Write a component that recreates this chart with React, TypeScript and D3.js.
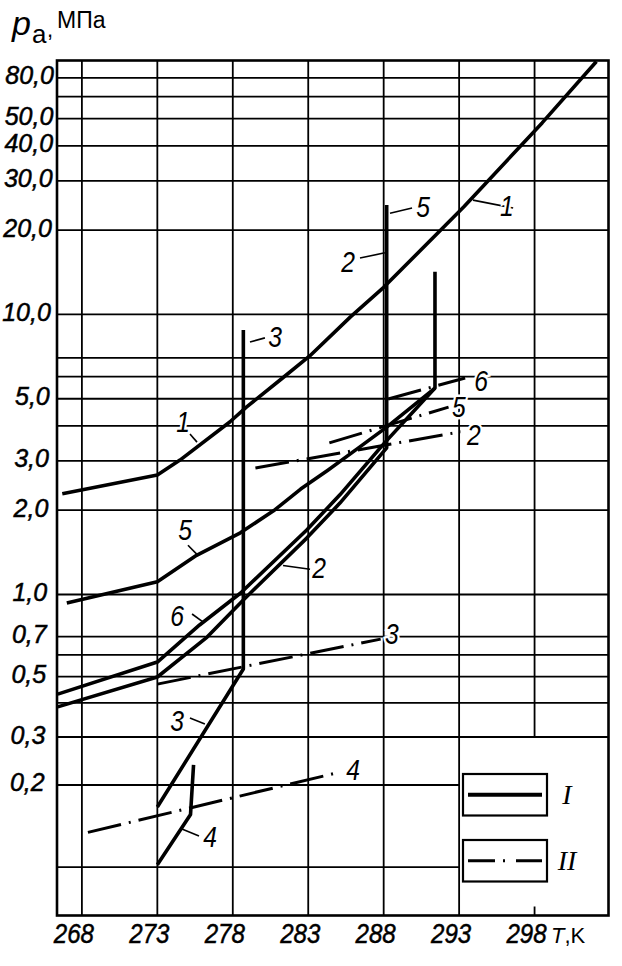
import React from 'react';
import * as d3 from 'd3';

const W = 622;
const H = 966;
const FONT = "'Liberation Sans', Arial, Helvetica, sans-serif";
const SERIF = "'Liberation Serif', 'Times New Roman', serif";

// ---- axes ----
const xGrid = [268, 273, 278, 283, 288, 293, 298];
const xTickLabels = ['268', '273', '278', '283', '288', '293', '298'];
const yGrid = [0.1, 0.2, 0.3, 0.4, 0.5, 0.6, 0.7, 1, 2, 3, 4, 5, 6, 7, 10, 20, 30, 40, 50, 60, 70];
const yTickValues = [70, 50, 40, 30, 20, 10, 5, 3, 2, 1, 0.7, 0.5, 0.3, 0.2];
const yTickLabels = ['80,0', '50,0', '40,0', '30,0', '20,0', '10,0', '5,0', '3,0', '2,0', '1,0', '0,7', '0,5', '0,3', '0,2'];

// ---- series I (solid) : T [K], p [MPa] ----
const curve1T = [266.7, 273, 274.5, 277.8, 278.9, 281.3, 283.1, 285.8, 288.0, 293.3, 298.5, 302.1];
const curve1P = [2.29, 2.67, 3.02, 4.13, 4.67, 5.93, 7.11, 9.8, 12.5, 24.2, 48.3, 80];
const curve5T = [267.0, 273, 275.6, 278.5, 280.7, 282.5, 284.3, 286.4, 288.2, 291.4];
const curve5P = [0.931, 1.11, 1.38, 1.66, 1.99, 2.38, 2.78, 3.36, 3.96, 5.46];
const curve6T = [266.4, 273, 275.8, 278.5, 282.9, 285.1, 288.0, 291.4, 291.4];
const curve6P = [0.431, 0.565, 0.773, 1.01, 1.7, 2.27, 3.45, 5.46, 14.2];
const curve2T = [266.4, 273, 276.3, 278.7, 282.9, 285.1, 288.2, 288.2];
const curve2P = [0.387, 0.498, 0.698, 0.955, 1.59, 2.12, 3.34, 24.6];
const curve3T = [273, 278.7, 278.7];
const curve3P = [0.166, 0.533, 8.8];
const curve4T = [273, 275.2, 275.4];
const curve4P = [0.102, 0.156, 0.237];

// ---- series II (dash-dot) ----
const dd2T = [279.5, 293.1];
const dd2P = [2.83, 3.81];
const dd5T = [284.4, 292.3];
const dd5P = [3.48, 4.67];
const dd6T = [288.3, 293.4];
const dd6P = [4.99, 5.93];
const dd3T = [273, 287.8];
const dd3P = [0.469, 0.686];
const dd4T = [268.4, 285.1];
const dd4P = [0.134, 0.223];

// ---- curve number labels (data coords) ----
const labelText = ['1', '5', '2', '3', '1', '5', '6', '2', '3', '4', '4', '3', '6', '5', '2'];
const labelT = [296.17, 290.61, 285.64, 280.8, 274.7, 274.84, 274.31, 283.72, 274.31, 276.49, 285.97, 288.55, 294.45, 292.99, 293.98];
const labelP = [24.4, 24.2, 15.4, 8.31, 4.13, 1.7, 0.834, 1.244, 0.3434, 0.1288, 0.227, 0.716, 5.79, 4.67, 3.71];
// leader strokes [T1, p1, T2, p2]
const leaders: number[][] = [
  [293.92, 25.6, 296.58, 24.0],
  [288.42, 23.0, 289.88, 24.0],
  [288.08, 16.6, 286.43, 15.9],
  [279.14, 7.97, 280.13, 8.25],
  [275.16, 3.74, 275.63, 3.5],
  [275.03, 1.5, 275.69, 1.38],
  [275.3, 0.848, 276.02, 0.793],
  [281.33, 1.27, 283.12, 1.23],
  [275.16, 0.352, 276.15, 0.335],
  [274.63, 0.1378, 275.76, 0.13],
];

const legendLabels = ['I', 'II'];

const xScale = d3.scaleLinear().domain([266.35, 302.9]).range([57, 608.5]);
const yScale = d3.scaleLog().domain([0.0664, 1, 80.7]).range([915.5, 594.5, 60.5]);

const solid = [
  [curve1T, curve1P],
  [curve5T, curve5P],
  [curve6T, curve6P],
  [curve2T, curve2P],
  [curve3T, curve3P],
  [curve4T, curve4P],
];
const dashed = [
  [dd2T, dd2P],
  [dd5T, dd5P],
  [dd6T, dd6P],
  [dd3T, dd3P],
  [dd4T, dd4P],
];

const DASH = '34 8 2 8';

export default function App() {
  const line = d3
    .line<number[]>()
    .x((d) => xScale(d[0]))
    .y((d) => yScale(d[1]));
  const pts = (T: number[], P: number[]) => T.map((t, i) => [t, P[i]]);

  const [xMin, xMax] = xScale.domain();
  const yDom = yScale.domain();
  const yMin = yDom[0];
  const yMax = yDom[yDom.length - 1];
  const left = xScale(xMin);
  const right = xScale(xMax);
  const top = yScale(yMax);
  const bottom = yScale(yMin);

  const legX = 463;
  const legW = 84;
  const legY = [774, 840];
  const legH = 41.5;

  return (
    <svg
      width={W}
      height={H}
      style={{ position: 'absolute', left: 0, top: 0, background: '#fff' }}
      fontFamily={FONT}
    >
      <rect x={0} y={0} width={W} height={H} fill="#fff" />

      {/* horizontal grid */}
      {yGrid.map((v) => (
        <line
          key={'h' + v}
          x1={left}
          x2={v <= 0.2 ? xScale(293) : right}
          y1={yScale(v)}
          y2={yScale(v)}
          stroke="#000"
          strokeWidth={1.8}
        />
      ))}
      {/* vertical grid */}
      {xGrid.map((v) => (
        <line
          key={'v' + v}
          x1={xScale(v)}
          x2={xScale(v)}
          y1={top}
          y2={v === 298 ? yScale(0.3) : bottom}
          stroke="#000"
          strokeWidth={1.8}
        />
      ))}
      <line x1={xScale(298)} x2={xScale(298)} y1={bottom - 9} y2={bottom} stroke="#000" strokeWidth={1.8} />

      {/* frame */}
      <rect x={left} y={top} width={right - left} height={bottom - top} fill="none" stroke="#000" strokeWidth={2.6} />

      {/* dash-dot curves (II) */}
      {dashed.map(([T, P], i) => (
        <path key={'d' + i} d={line(pts(T, P)) || ''} fill="none" stroke="#000" strokeWidth={3} strokeDasharray={DASH} />
      ))}

      {/* solid curves (I) */}
      {solid.map(([T, P], i) => (
        <path
          key={'s' + i}
          d={line(pts(T, P)) || ''}
          fill="none"
          stroke="#000"
          strokeWidth={3.6}
          strokeLinejoin="round"
        />
      ))}

      {/* leaders */}
      {leaders.map((l, i) => (
        <line
          key={'l' + i}
          x1={xScale(l[0])}
          y1={yScale(l[1])}
          x2={xScale(l[2])}
          y2={yScale(l[3])}
          stroke="#000"
          strokeWidth={1.6}
        />
      ))}

      {/* curve labels */}
      {labelText.map((t, i) => (
        <text
          key={'t' + i}
          transform={`translate(${xScale(labelT[i])},${yScale(labelP[i]) + 10.4}) scale(0.85,1)`}
          textAnchor="middle"
          fontSize={29}
          fontStyle="italic"
          fill="#000"
          stroke="#fff"
          strokeWidth={5}
          paintOrder="stroke"
        >
          {t}
        </text>
      ))}

      {/* legend */}
      {legendLabels.map((lab, i) => (
        <g key={'lg' + i}>
          <rect x={legX} y={legY[i]} width={legW} height={legH} fill="#fff" stroke="#000" strokeWidth={2.2} />
          <line
            x1={legX + 5}
            x2={legX + legW - 5}
            y1={legY[i] + legH / 2}
            y2={legY[i] + legH / 2}
            stroke="#000"
            strokeWidth={i === 0 ? 4.2 : 3}
            strokeDasharray={i === 0 ? undefined : '27 8 2 11 30'}
          />
          <text
            x={legX + legW + 20}
            y={legY[i] + legH / 2 + 9.5}
            textAnchor="middle"
            fontFamily={SERIF}
            fontStyle="italic"
            fontSize={28}
          >
            {lab}
          </text>
        </g>
      ))}

      {/* y tick labels */}
      {yTickValues.map((v, i) => {
        const y = yScale(v);
        return (
          <text
            key={'yt' + i}
            x={54 - 0.013 * (y - 73)}
            y={y + 6.5}
            textAnchor="end"
            fontSize={25}
            fontStyle="italic"
            stroke="#000"
            strokeWidth={0.5}
          >
            {yTickLabels[i]}
          </text>
        );
      })}

      {/* x tick labels */}
      {xGrid.map((v, i) => (
        <text
          key={'xt' + i}
          transform={`translate(${xScale(v) - 8},943) scale(0.86,1)`}
          textAnchor="middle"
          fontSize={28}
          fontStyle="italic"
          stroke="#000"
          strokeWidth={0.5}
        >
          {xTickLabels[i]}
        </text>
      ))}
      <text x={551} y={943} fontSize={22}>
        <tspan fontStyle="italic">T</tspan>
        <tspan>,K</tspan>
      </text>

      {/* y axis title */}
      <text x={12} y={35} fontSize={34} fontStyle="italic">
        p
      </text>
      <text x={32} y={43} fontSize={26}>
        a
      </text>
      <text x={47} y={37} fontSize={22}>
        ,
      </text>
      <text x={57} y={28} fontSize={23}>
        МПа
      </text>
    </svg>
  );
}
